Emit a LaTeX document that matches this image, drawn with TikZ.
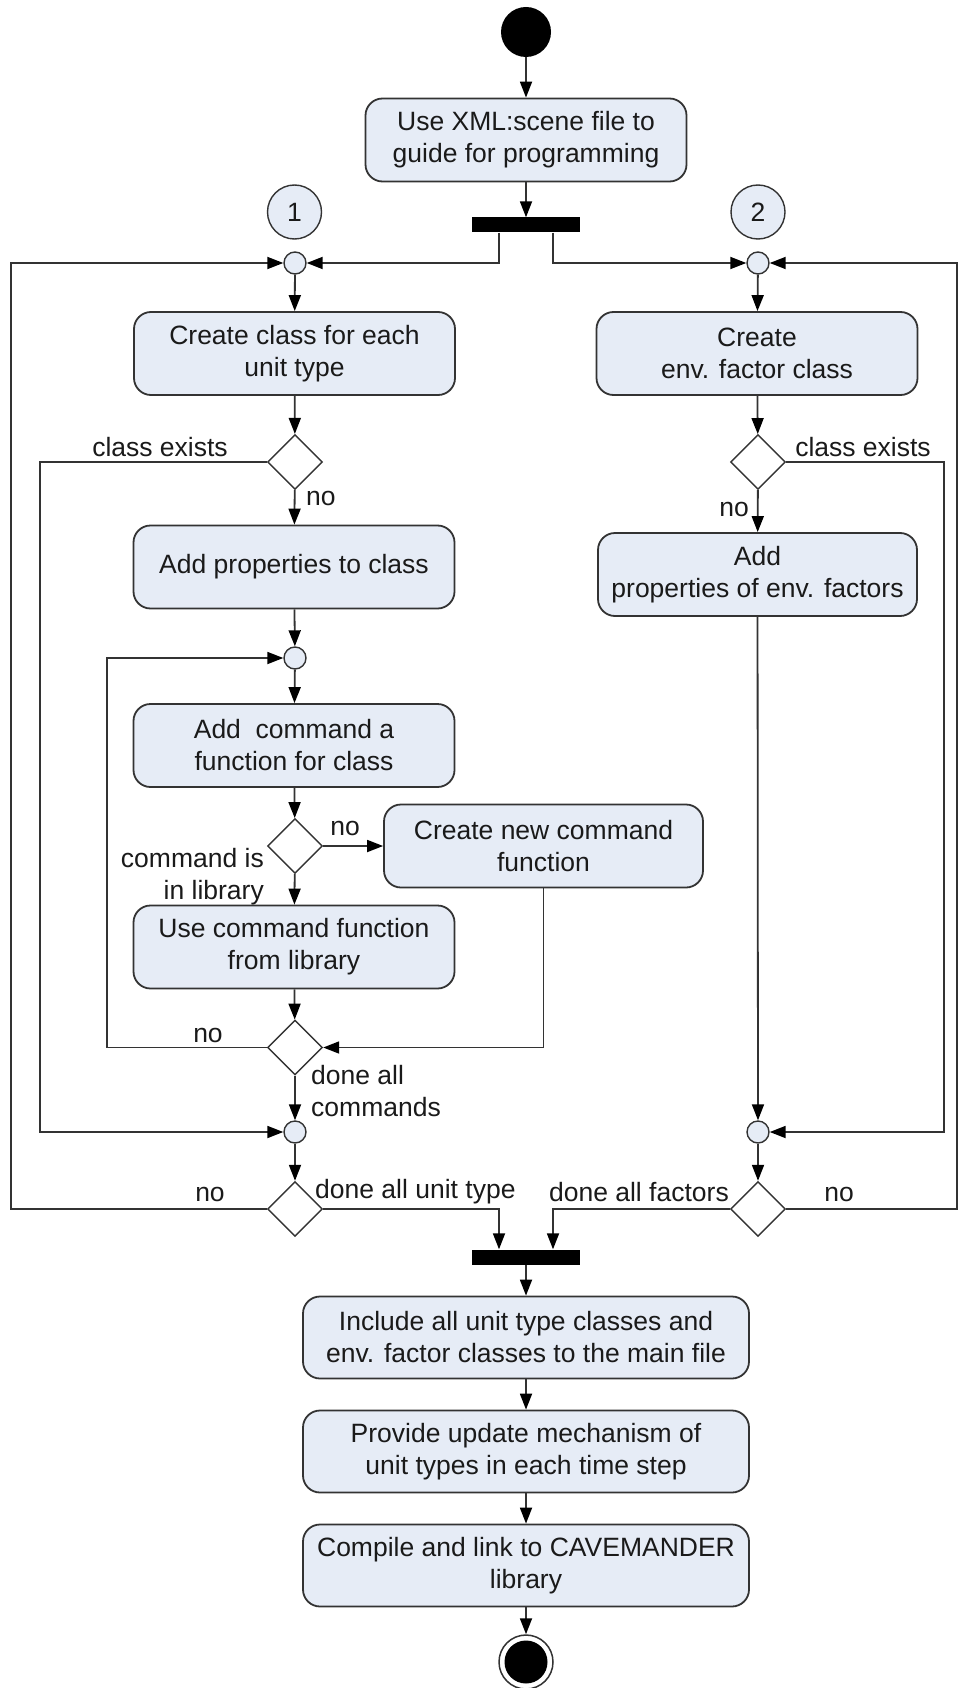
\documentclass[tikz,border=0pt]{standalone}
\usepackage{fontspec}
\setmainfont{Liberation Sans}
\usetikzlibrary{shapes.geometric,arrows.meta}
\definecolor{boxfill}{HTML}{E6ECF6}
\definecolor{linecol}{HTML}{333333}
\definecolor{txtcol}{HTML}{1A1A1A}
\begin{document}
\begin{tikzpicture}[x=1pt,y=-1pt,
  every node/.style={font=\fontsize{26.5}{32}\selectfont, text=txtcol},
  action/.style={draw=linecol, line width=1.8pt, fill=boxfill,
    rounded corners=17pt, minimum width=321pt, minimum height=83pt,
    align=center, inner sep=0pt},
  wide/.style={action, minimum width=446pt, minimum height=82pt},
  merge/.style={circle, draw=linecol, line width=1.4pt, fill=boxfill,
    minimum size=22pt, inner sep=0pt},
  numcirc/.style={circle, draw=linecol, line width=1.4pt, fill=boxfill,
    minimum size=54pt, inner sep=0pt},
  decision/.style={diamond, draw=linecol, line width=1.4pt, fill=white,
    minimum width=55pt, minimum height=55pt, inner sep=0pt},
  bar/.style={rectangle, fill=black, minimum width=108pt,
    minimum height=15pt, inner sep=0pt},
  lbl/.style={inner sep=0pt},
  wire/.style={draw=linecol, line width=1.8pt},
  flow/.style={wire, -{Triangle[length=16pt,width=12pt,fill=black,color=black]}}
]
\useasboundingbox (0,0) rectangle (959,1688);

% initial node and preparation
\node[circle, fill=black, minimum size=50pt, inner sep=0pt] (start) at (526,32) {};
\node[action] (xml) at (526,140) {Use XML:scene file to\\guide for programming};
\node[bar] (fork) at (526,225) {};
\node[numcirc] (n1) at (294.5,212) {1};
\node[numcirc] (n2) at (758,212) {2};
\node[merge] (m1) at (295,263) {};
\node[merge] (m2) at (758,263) {};

% branch 1: unit types
\node[action] (unitcls) at (294.5,353.5) {Create class for each\\unit type};
\node[decision] (d1) at (295,462) {};
\node[action] (addprop) at (294,567) {Add properties to class};
\node[merge] (m3) at (295,658) {};
\node[action] (addcmd) at (294,745.5) {Add\ \ command a\\function for class};
\node[decision] (d3) at (295,846) {};
\node[action, minimum width=319pt] (newcmd) at (543.5,846) {Create new command\\function};
\node[action] (usecmd) at (294,947) {Use command function\\from library};
\node[decision] (d4) at (295,1047.5) {};
\node[merge] (m4) at (295,1132) {};
\node[decision] (d5) at (295,1209) {};

% branch 2: environment factors
\node[action] (envcls) at (757,353.5) {Create\\env. factor class};
\node[decision] (d2) at (758,462) {};
\node[action, minimum width=319pt] (envprop) at (757.5,574.5) {Add\\properties of env. factors};
\node[merge] (m5) at (758,1132) {};
\node[decision] (d6) at (758,1209) {};

% join and final steps
\node[bar] (join) at (526,1257) {};
\node[wide] (incl) at (526,1337.5) {Include all unit type classes and\\env. factor classes to the main file};
\node[wide] (upd) at (526,1451.5) {Provide update mechanism of\\unit types in each time step};
\node[wide] (comp) at (526,1565.5) {Compile and link to CAVEMANDER\\library};
\node[circle, draw=linecol, line width=1.5pt, fill=white, minimum size=54pt, inner sep=0pt] (stop) at (526,1662) {};
\node[circle, fill=black, minimum size=43pt, inner sep=0pt] (stopcore) at (stop) {};

% guard labels
\node[lbl, anchor=base] (l1) at (160,456) {class exists};
\node[lbl, anchor=base] (l2) at (863,456) {class exists};
\node[lbl, anchor=base west] (l3) at (306,505) {no};
\node[lbl, anchor=base east] (l4) at (749,516) {no};
\node[lbl, anchor=base] (l5) at (345,835) {no};
\node[lbl, anchor=base east] (l6) at (264,867) {command is};
\node[lbl, anchor=base east] (l7) at (264,899) {in library};
\node[lbl, anchor=base] (l8) at (208,1042) {no};
\node[lbl, anchor=base west] (l9) at (311,1084) {done all};
\node[lbl, anchor=base west] (l10) at (311,1116) {commands};
\node[lbl, anchor=base] (l11) at (210,1201) {no};
\node[lbl, anchor=base west] (l12) at (315,1198) {done all unit type};
\node[lbl, anchor=base east] (l13) at (729,1201) {done all factors};
\node[lbl, anchor=base] (l14) at (839,1201) {no};

% connectors
\draw[flow] (start) -- (xml);
\draw[flow] (xml) -- (fork);
\draw[flow] ([xshift=-27pt]fork.south) |- (m1);
\draw[flow] ([xshift=27pt]fork.south) |- (m2);
\draw[flow] (m1) -- (unitcls);
\draw[flow] (m2) -- (envcls);
\draw[flow] (unitcls) -- (d1);
\draw[flow] (envcls) -- (d2);
\draw[flow] (d1) -- (addprop);
\draw[flow] (d2) -- (envprop);
\draw[flow] (d1.west) -- (40,462) |- (m4);
\draw[flow] (d2.east) -- (944,462) |- (m5);
\draw[flow] (addprop) -- (m3);
\draw[flow] (m3) -- (addcmd);
\draw[flow] (addcmd) -- (d3);
\draw[flow] (d3) -- (newcmd);
\draw[flow] (d3) -- (usecmd);
\draw[flow] (newcmd.south) |- (d4.east);
\draw[flow] (usecmd) -- (d4);
\draw[flow] (d4.west) -- (107,1047.5) |- (m3);
\draw[flow] (d4) -- (m4);
\draw[flow] (envprop) -- (m5);
\draw[flow] (m4) -- (d5);
\draw[flow] (m5) -- (d6);
\draw[flow] (d5.west) -- (11,1209) |- (m1);
\draw[flow] (d6.east) -- (957,1209) |- (m2);
\draw[flow] (d5.east) -| ([xshift=-27pt]join.north);
\draw[flow] (d6.west) -| ([xshift=27pt]join.north);
\draw[flow] (join) -- (incl);
\draw[flow] (incl) -- (upd);
\draw[flow] (upd) -- (comp);
\draw[flow] (comp) -- (stop);
\end{tikzpicture}
\end{document}
